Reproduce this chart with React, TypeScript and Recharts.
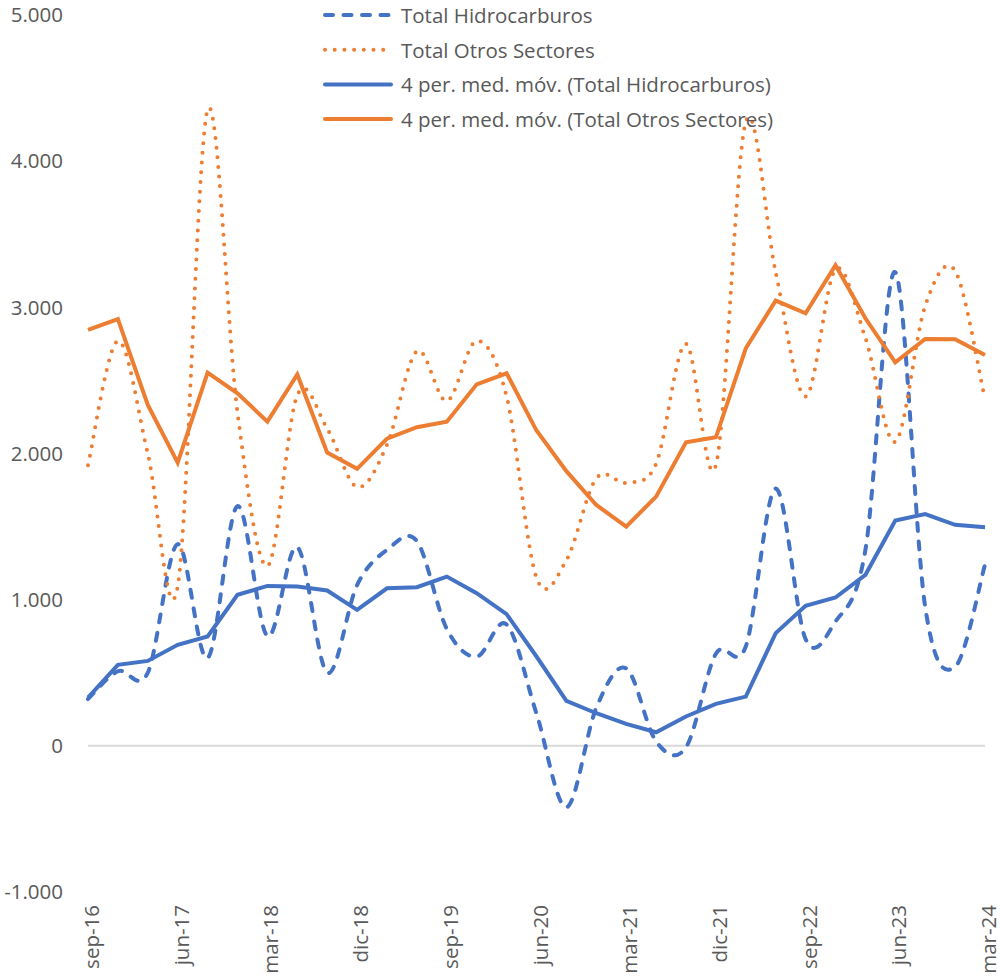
import React from 'react';
import { LineChart, Line, XAxis, YAxis, ReferenceLine, Legend } from 'recharts';

const categories = [
  'sep-16', 'dic-16', 'mar-17', 'jun-17', 'sep-17', 'dic-17', 'mar-18', 'jun-18',
  'sep-18', 'dic-18', 'mar-19', 'jun-19', 'sep-19', 'dic-19', 'mar-20', 'jun-20',
  'sep-20', 'dic-20', 'mar-21', 'jun-21', 'sep-21', 'dic-21', 'mar-22', 'jun-22',
  'sep-22', 'dic-22', 'mar-23', 'jun-23', 'sep-23', 'dic-23', 'mar-24',
];

const totalHidrocarburos = [
  320, 510, 500, 1380, 600, 1640, 750, 1360, 500, 1100, 1340, 1400, 800, 610, 830, 220,
  -420, 260, 530, 30, -10, 630, 680, 1760, 730, 850, 1340, 3240, 950, 540, 1240,
];

const totalOtrosSectores = [
  1920, 2770, 2000, 1090, 4350, 2280, 1230, 2400, 2170, 1770, 2060, 2700, 2360, 2770, 2390, 1150,
  1270, 1830, 1800, 1930, 2750, 1920, 4270, 3240, 2390, 3260, 2790, 2080, 3010, 3250, 2370,
];

const mediaMovilHidrocarburos = [
  330, 554, 581, 691, 748, 1033, 1094, 1090, 1063, 930, 1078, 1085, 1158, 1044, 901, 611,
  308, 223, 150, 93, 201, 287, 337, 771, 958, 1015, 1170, 1541, 1585, 1512, 1496,
];

const mediaMovilOtros = [
  2845, 2919, 2332, 1938, 2553, 2412, 2218, 2541, 2006, 1895, 2102, 2180, 2218, 2473, 2549, 2157,
  1879, 1648, 1500, 1705, 2077, 2111, 2720, 3046, 2959, 3288, 2925, 2624, 2784, 2782, 2674,
];

const yTicks = [-1000, 0, 1000, 2000, 3000, 4000, 5000];

const seriesNames = [
  'Total Hidrocarburos',
  'Total Otros Sectores',
  '4 per. med. móv. (Total Hidrocarburos)',
  '4 per. med. móv. (Total Otros Sectores)',
];

const data = categories.map((c, i) => ({
  periodo: c,
  hidro: totalHidrocarburos[i],
  otros: totalOtrosSectores[i],
  mmHidro: mediaMovilHidrocarburos[i],
  mmOtros: mediaMovilOtros[i],
}));

const BLUE = '#4472C4';
const ORANGE = '#ED7D31';
const TEXT = '#595959';
const FONT = '"Open Sans", sans-serif';
const FS = 20.5;

// Excel-like smoothed line (Catmull-Rom through points)
function excelSmooth(context: any) {
  let pts: number[][] = [];
  return {
    areaStart() {},
    areaEnd() {},
    lineStart() {
      pts = [];
    },
    point(x: number, y: number) {
      pts.push([+x, +y]);
    },
    lineEnd() {
      const n = pts.length;
      if (!n) return;
      context.moveTo(pts[0][0], pts[0][1]);
      if (n === 1) return;
      for (let i = 0; i < n - 1; i++) {
        const p0 = pts[Math.max(i - 1, 0)];
        const p1 = pts[i];
        const p2 = pts[i + 1];
        const p3 = pts[Math.min(i + 2, n - 1)];
        context.bezierCurveTo(
          p1[0] + (p2[0] - p0[0]) / 6,
          p1[1] + (p2[1] - p0[1]) / 6,
          p2[0] - (p3[0] - p1[0]) / 6,
          p2[1] - (p3[1] - p1[1]) / 6,
          p2[0],
          p2[1]
        );
      }
    },
  };
}

const fmt = (v: number) => {
  const s = Math.abs(v).toString().replace(/\B(?=(\d{3})+(?!\d))/g, '.');
  return (v < 0 ? '-' : '') + s;
};

const XTick = (props: any) => {
  const { x, y, payload } = props;
  return (
    <text
      x={x}
      y={y}
      dy={11}
      transform={`rotate(-90 ${x} ${y})`}
      textAnchor="end"
      fill={TEXT}
      fontSize={FS}
      fontFamily={FONT}
    >
      {payload.value}
    </text>
  );
};

const legendStyles = [
  { stroke: BLUE, dash: '8 10.5', width: 4 },
  { stroke: ORANGE, dash: '0 9.7', width: 4 },
  { stroke: BLUE, dash: undefined, width: 4 },
  { stroke: ORANGE, dash: undefined, width: 4 },
];

const renderLegend = () => (
  <svg width={480} height={140} style={{ display: 'block' }}>
    {seriesNames.map((name, i) => {
      const cy = 15 + i * 34.7;
      const st = legendStyles[i];
      return (
        <g key={name}>
          <line
            x1={6}
            x2={72}
            y1={cy}
            y2={cy}
            stroke={st.stroke}
            strokeWidth={st.width}
            strokeDasharray={st.dash}
            strokeLinecap="round"
          />
          <text x={82} y={cy} dominantBaseline="central" fill={TEXT} fontSize={FS} fontFamily={FONT}>
            {name}
          </text>
        </g>
      );
    })}
  </svg>
);

export default function App() {
  return (
    <div style={{ position: 'absolute', left: 0, top: 0, width: 1000, height: 976, background: '#fff' }}>
      <LineChart
        width={1000}
        height={976}
        data={data}
        margin={{ top: 15, right: 15, bottom: 0, left: 0 }}
      >
        <XAxis
          dataKey="periodo"
          interval={2}
          axisLine={false}
          tickLine={false}
          tickSize={0}
          tickMargin={13}
          height={84}
          tick={<XTick />}
        />
        <YAxis
          type="number"
          domain={[-1000, 5000]}
          ticks={yTicks}
          tickFormatter={fmt}
          axisLine={false}
          tickLine={false}
          tickSize={0}
          tickMargin={25}
          width={88}
          tick={{ fill: TEXT, fontSize: FS, fontFamily: FONT }}
        />
        <ReferenceLine y={0} stroke="#d9d9d9" strokeWidth={2} />
        <Legend
          layout="horizontal"
          verticalAlign="middle"
          align="center"
          wrapperStyle={{ top: 0, left: 319, width: 480, height: 140 }}
          content={renderLegend}
        />
        <Line
          dataKey="hidro"
          name={seriesNames[0]}
          type={excelSmooth as any}
          stroke={BLUE}
          strokeWidth={4}
          strokeDasharray="8 10.5"
          strokeLinecap="round"
          dot={false}
          activeDot={false}
          isAnimationActive={false}
        />
        <Line
          dataKey="otros"
          name={seriesNames[1]}
          type={excelSmooth as any}
          stroke={ORANGE}
          strokeWidth={4}
          strokeDasharray="0 9.7"
          strokeLinecap="round"
          dot={false}
          activeDot={false}
          isAnimationActive={false}
        />
        <Line
          dataKey="mmHidro"
          name={seriesNames[2]}
          type="linear"
          stroke={BLUE}
          strokeWidth={4}
          dot={false}
          activeDot={false}
          isAnimationActive={false}
        />
        <Line
          dataKey="mmOtros"
          name={seriesNames[3]}
          type="linear"
          stroke={ORANGE}
          strokeWidth={4}
          dot={false}
          activeDot={false}
          isAnimationActive={false}
        />
      </LineChart>
    </div>
  );
}
